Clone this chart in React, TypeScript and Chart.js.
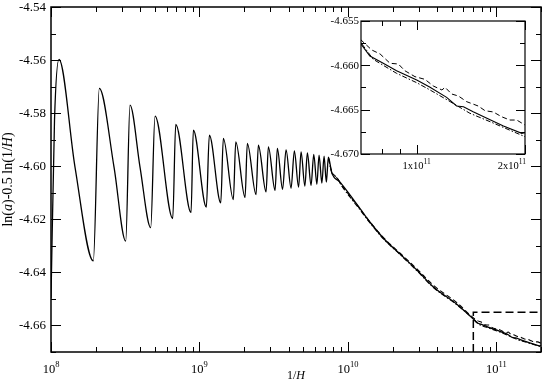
import React, { useEffect, useRef } from "react";
import { Chart, registerables } from "chart.js";
Chart.register(...registerables);

// ---------- data ----------
const solidX = [1.0e8, 1.056e8, 1.132e8, 1.451e8, 1.928e8, 2.116e8, 2.658e8, 3.187e8, 3.406e8, 3.978e8, 4.697e8, 5.021e8, 6.609e8, 6.923e8, 8.779e8, 9.097e8, 1.113e9, 1.166e9, 1.392e9, 1.449e9, 1.692e9, 1.757e9, 2.029e9, 2.102e9, 2.406e9, 2.494e9, 2.811e9, 2.913e9, 3.232e9, 3.349e9, 3.631e9, 3.833e9, 4.143e9, 4.36e9, 4.654e9, 4.838e9, 5.131e9, 5.335e9, 5.649e9, 5.891e9, 6.181e9, 6.395e9, 6.68e9, 6.911e9, 7.162e9, 7.389e9, 7.789e9, 8.86e9, 1.035e10, 1.208e10, 1.411e10, 1.781e10, 2.248e10, 2.927e10, 3.769e10, 5.419e10, 7.0e10, 7.41e10, 8.07e10, 8.79e10, 1.0e11, 1.089e11, 1.211e11, 1.291e11, 1.349e11, 1.435e11, 1.567e11, 1.742e11, 1.959e11, 2.0e11];
const solidY = [-4.6498, -4.5826, -4.5597, -4.6003, -4.6357, -4.5707, -4.6003, -4.6282, -4.577, -4.6003, -4.6231, -4.5811, -4.6197, -4.5842, -4.6175, -4.5864, -4.6154, -4.5883, -4.6138, -4.5895, -4.6126, -4.5908, -4.6118, -4.5914, -4.6107, -4.5921, -4.6097, -4.5927, -4.6091, -4.5933, -4.6087, -4.5938, -4.6083, -4.5942, -4.6079, -4.5946, -4.6075, -4.595, -4.6072, -4.5955, -4.6068, -4.5958, -4.6064, -4.5962, -4.606, -4.5966, -4.6025, -4.606, -4.6109, -4.616, -4.6211, -4.6278, -4.6331, -4.6392, -4.6455, -4.652, -4.6576, -4.65895, -4.65977, -4.66061, -4.66166, -4.66248, -4.66361, -4.66459, -4.66467, -4.66523, -4.66598, -4.66684, -4.66767, -4.6676];

const dashX = [7.4e9, 7.8e9, 8.2e9, 8.6e9, 9.0e9, 9.5e9, 1.0e10, 1.05e10, 1.2e10, 1.4e10, 1.78e10, 2.25e10, 2.93e10, 3.77e10, 5.42e10, 7.0e10, 7.5e10, 7.91e10, 8.43e10, 8.89e10, 9.27e10, 9.89e10, 1.054e11, 1.112e11, 1.175e11, 1.199e11, 1.25e11, 1.306e11, 1.377e11, 1.483e11, 1.549e11, 1.633e11, 1.722e11, 1.816e11, 1.897e11, 2.0e11];
const dashY = [-4.5968, -4.6022, -4.6036, -4.605, -4.6072, -4.6085, -4.6102, -4.6118, -4.6159, -4.6208, -4.6275, -4.6328, -4.6388, -4.6449, -4.6514, -4.65714, -4.65827, -4.65872, -4.65977, -4.65985, -4.66061, -4.66128, -4.66158, -4.66233, -4.66278, -4.66248, -4.66323, -4.66346, -4.6641, -4.66459, -4.66512, -4.66526, -4.6658, -4.66617, -4.66617, -4.66673];

const dotDashX = [7.4e9, 7.9e9, 8.5e9, 9.2e9, 1.0e10, 1.05e10, 1.21e10, 1.41e10, 1.78e10, 2.25e10, 2.93e10, 3.77e10, 5.42e10, 7.0e10, 7.57e10, 8.79e10, 1.0e11, 1.089e11, 1.239e11, 1.406e11, 1.6e11, 2.0e11];
const dotDashY = [-4.5972, -4.6032, -4.6046, -4.6078, -4.6106, -4.6121, -4.6165, -4.6214, -4.628, -4.6333, -4.6395, -4.6457, -4.6522, -4.65745, -4.65932, -4.6609, -4.66196, -4.66278, -4.6641, -4.66541, -4.66636, -4.66805];

// ---------- axes ----------
const mainXRange = [1e8, 2e11];
const mainYRange = [-4.67, -4.54];
const mainXMajor = [1e8, 1e9, 1e10, 1e11];
const mainXLabelBase = ["10", "10", "10", "10"];
const mainXLabelExp = ["8", "9", "10", "11"];
const mainYMajor = [-4.66, -4.64, -4.62, -4.6, -4.58, -4.56, -4.54];
const mainYLabels = ["-4.66", "-4.64", "-4.62", "-4.60", "-4.58", "-4.56", "-4.54"];
const mainYMinor = [-4.67, -4.65, -4.63, -4.61, -4.59, -4.57, -4.55];

const insetXRange = [7e10, 2e11];
const insetYRange = [-4.67, -4.655];
const insetXMajor = [1e11, 2e11];
const insetXLabelBase = ["1x10", "2x10"];
const insetXLabelExp = ["11", "11"];
const insetXMinor = [8e10, 9e10];
const insetYMajor = [-4.67, -4.665, -4.66, -4.655];
const insetYLabels = ["-4.670", "-4.665", "-4.660", "-4.655"];
const insetYMinor = [-4.6675, -4.6625, -4.6575];

const zoomBox = [7e10, 2e11, -4.67, -4.655];

const SERIF = '"Liberation Serif", "Times New Roman", serif';

function pts(xs: number[], ys: number[]) {
  return xs.map((x, i) => ({ x, y: ys[i] }));
}

function logMinors(min: number, max: number) {
  const out: number[] = [];
  for (let d = 1e8; d <= max; d *= 10) {
    for (let m = 2; m <= 9; m++) {
      const v = m * d;
      if (v > min && v <= max) out.push(v);
    }
  }
  return out;
}

function supLabel(ctx: CanvasRenderingContext2D, base: string, sup: string, x: number, y: number, bs: number, ss: number, align: string) {
  ctx.font = `${bs}px ${SERIF}`;
  const wb = ctx.measureText(base).width;
  ctx.font = `${ss}px ${SERIF}`;
  const ws = ctx.measureText(sup).width;
  const total = wb + ws;
  const x0 = align === "center" ? x - total / 2 : x - total;
  ctx.textAlign = "left";
  ctx.textBaseline = "alphabetic";
  ctx.font = `${bs}px ${SERIF}`;
  ctx.fillText(base, x0, y);
  ctx.font = `${ss}px ${SERIF}`;
  ctx.fillText(sup, x0 + wb, y - bs * 0.45);
}

function richText(ctx: CanvasRenderingContext2D, parts: [string, boolean][], size: number, cx: number, cy: number, rotate: boolean) {
  ctx.save();
  ctx.translate(cx, cy);
  if (rotate) ctx.rotate(-Math.PI / 2);
  const widths = parts.map(([t, it]) => {
    ctx.font = `${it ? "italic " : ""}${size}px ${SERIF}`;
    return ctx.measureText(t).width;
  });
  const total = widths.reduce((a, b) => a + b, 0);
  let x = -total / 2;
  ctx.textAlign = "left";
  ctx.textBaseline = "alphabetic";
  parts.forEach(([t, it], i) => {
    ctx.font = `${it ? "italic " : ""}${size}px ${SERIF}`;
    ctx.fillText(t, x, 0);
    x += widths[i];
  });
  ctx.restore();
}

const framePlugin = {
  id: "frame",
  beforeDatasetsDraw(chart: any, _a: any, o: any) {
    if (o.bg) {
      const a = chart.chartArea;
      chart.ctx.save();
      chart.ctx.fillStyle = "#fff";
      chart.ctx.fillRect(a.left, a.top, a.right - a.left, a.bottom - a.top);
      chart.ctx.restore();
    }
  },
  afterDatasetsDraw(chart: any, _a: any, o: any) {
    const ctx: CanvasRenderingContext2D = chart.ctx;
    const a = chart.chartArea;
    const xs = chart.scales.x;
    const ys = chart.scales.y;
    ctx.save();
    ctx.strokeStyle = "#000";
    ctx.fillStyle = "#000";
    ctx.lineWidth = o.tickWidth;
    const seg = (x1: number, y1: number, x2: number, y2: number) => {
      ctx.beginPath();
      ctx.moveTo(x1, y1);
      ctx.lineTo(x2, y2);
      ctx.stroke();
    };
    const xt = (vals: number[], len: number) => vals.forEach((v) => {
      const p = Math.round(xs.getPixelForValue(v)) + 0.5;
      seg(p, a.bottom, p, a.bottom - len);
      seg(p, a.top, p, a.top + len);
    });
    const yt = (vals: number[], len: number) => vals.forEach((v) => {
      const p = Math.round(ys.getPixelForValue(v)) + 0.5;
      seg(a.left, p, a.left + len, p);
      seg(a.right, p, a.right - len, p);
    });
    xt(o.xMajor, o.majorLen);
    xt(o.xMinor, o.minorLen);
    yt(o.yMajor, o.majorLen);
    yt(o.yMinor, o.minorLen);

    // zoom box
    if (o.box) {
      ctx.save();
      ctx.setLineDash([8, 4]);
      ctx.lineWidth = 1.5;
      const bx1 = xs.getPixelForValue(o.box[0]);
      const bx2 = xs.getPixelForValue(o.box[1]);
      const by1 = ys.getPixelForValue(o.box[2]);
      const by2 = ys.getPixelForValue(o.box[3]);
      ctx.beginPath();
      ctx.moveTo(bx1, by1);
      ctx.lineTo(bx1, by2);
      ctx.lineTo(bx2, by2);
      ctx.stroke();
      ctx.restore();
    }

    // frame
    ctx.lineWidth = o.frameWidth;
    ctx.strokeRect(a.left, a.top, a.right - a.left, a.bottom - a.top);

    // y labels
    ctx.textAlign = "right";
    ctx.textBaseline = "middle";
    ctx.font = `${o.yFont}px ${SERIF}`;
    o.yMajor.forEach((v: number, i: number) => {
      ctx.fillText(o.yLabels[i], a.left - o.yLabelGap, ys.getPixelForValue(v) + 0.5);
    });
    // x labels
    o.xMajor.forEach((v: number, i: number) => {
      const px = xs.getPixelForValue(v);
      const align = i === o.xMajor.length - 1 && o.lastRight ? "right" : "center";
      supLabel(ctx, o.xBase[i], o.xExp[i], align === "right" ? a.right + 1 : px, a.bottom + o.xLabelDy, o.xFont, o.xSupFont, align);
    });

    if (o.titles) {
      richText(ctx, [["ln(", false], ["a", true], [")-0.5 ln(1/", false], ["H", true], [")", false]], 14, 12, (a.top + a.bottom) / 2, true);
      richText(ctx, [["1/", false], ["H", true]], 12, (a.left + a.right) / 2, 379, false);
    }
    ctx.restore();
  },
};

function makeDatasets(smooth: boolean, mainW: number, thinW: number) {
  const common = { pointRadius: 0, borderColor: "#000", fill: false, clip: 0 } as any;
  const extra = smooth ? { cubicInterpolationMode: "monotone" } : { tension: 0 };
  return [
    { ...common, ...extra, data: pts(solidX, solidY), borderWidth: mainW },
    { ...common, ...extra, data: pts(dashX, dashY), borderWidth: thinW, borderDash: [5, 3] },
    { ...common, ...extra, data: pts(dotDashX, dotDashY), borderWidth: thinW, borderDash: [5, 2, 1.5, 2] },
  ];
}

export default function App() {
  const mainRef = useRef<HTMLCanvasElement>(null);
  const insetRef = useRef<HTMLCanvasElement>(null);

  useEffect(() => {
    document.body.style.margin = "0";
    const main = new Chart(mainRef.current as HTMLCanvasElement, {
      type: "line",
      data: { datasets: makeDatasets(true, 1.3, 1.1) },
      options: {
        animation: false,
        responsive: false,
        parsing: false as any,
        layout: { padding: { left: 51, top: 7, right: 4, bottom: 36 } },
        scales: {
          x: { type: "logarithmic", min: mainXRange[0], max: mainXRange[1], display: false },
          y: { type: "linear", min: mainYRange[0], max: mainYRange[1], display: false },
        },
        plugins: {
          legend: { display: false },
          tooltip: { enabled: false },
          frame: {
            bg: false,
            tickWidth: 1,
            frameWidth: 1.5,
            majorLen: 10,
            minorLen: 5,
            xMajor: mainXMajor,
            xMinor: logMinors(mainXRange[0], mainXRange[1]),
            yMajor: mainYMajor,
            yMinor: mainYMinor,
            yLabels: mainYLabels,
            xBase: mainXLabelBase,
            xExp: mainXLabelExp,
            yFont: 13,
            xFont: 12.5,
            xSupFont: 8.5,
            yLabelGap: 5,
            xLabelDy: 21,
            lastRight: false,
            box: zoomBox,
            titles: true,
          },
        } as any,
      },
      plugins: [framePlugin as any],
    });
    const inset = new Chart(insetRef.current as HTMLCanvasElement, {
      type: "line",
      data: { datasets: makeDatasets(false, 1.1, 1) },
      options: {
        animation: false,
        responsive: false,
        parsing: false as any,
        layout: { padding: { left: 361, top: 21, right: 20, bottom: 234 } },
        scales: {
          x: { type: "logarithmic", min: insetXRange[0], max: insetXRange[1], display: false },
          y: { type: "linear", min: insetYRange[0], max: insetYRange[1], display: false },
        },
        plugins: {
          legend: { display: false },
          tooltip: { enabled: false },
          frame: {
            bg: true,
            tickWidth: 1,
            frameWidth: 1.2,
            majorLen: 9,
            minorLen: 5,
            xMajor: insetXMajor,
            xMinor: insetXMinor,
            yMajor: insetYMajor,
            yMinor: insetYMinor,
            yLabels: insetYLabels,
            xBase: insetXLabelBase,
            xExp: insetXLabelExp,
            yFont: 11,
            xFont: 10.5,
            xSupFont: 7.5,
            yLabelGap: 2,
            xLabelDy: 15,
            lastRight: true,
            box: null,
            titles: false,
          },
        } as any,
      },
      plugins: [framePlugin as any],
    });
    return () => {
      main.destroy();
      inset.destroy();
    };
  }, []);

  return (
    <div style={{ position: "fixed", left: 0, top: 0, width: 545, height: 388, background: "#fff" }}>
      <canvas ref={mainRef} width={545} height={388} style={{ position: "absolute", left: 0, top: 0 }} />
      <canvas ref={insetRef} width={545} height={388} style={{ position: "absolute", left: 0, top: 0, pointerEvents: "none" }} />
    </div>
  );
}
